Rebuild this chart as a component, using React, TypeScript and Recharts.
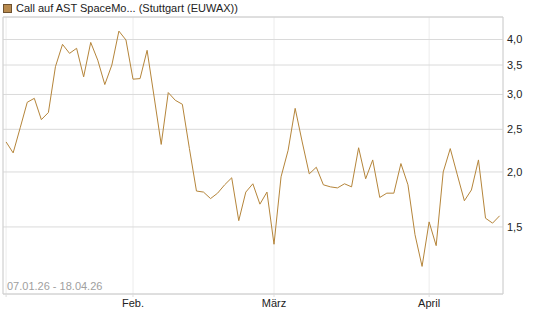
import React from "react";
import { LineChart, Line, XAxis, YAxis, CartesianGrid, ReferenceArea } from "recharts";

const values: number[] = [
  2.34, 2.21, 2.52, 2.88, 2.94, 2.63, 2.73, 3.47, 3.90, 3.72,
  3.82, 3.29, 3.94, 3.59, 3.16, 3.50, 4.18, 3.99, 3.25, 3.26,
  3.78, 2.96, 2.31, 3.03, 2.91, 2.85, 2.26, 1.81, 1.80, 1.74,
  1.79, 1.87, 1.94, 1.55, 1.80, 1.88, 1.69, 1.80, 1.37, 1.95,
  2.24, 2.79, 2.34, 1.98, 2.05, 1.87, 1.85, 1.84, 1.88, 1.85,
  2.27, 1.93, 2.13, 1.75, 1.79, 1.79, 2.09, 1.87, 1.44, 1.22,
  1.54, 1.36, 2.00, 2.26, 1.97, 1.72, 1.82, 2.13, 1.57, 1.53,
  1.59,
];

const monthTickIndex: number[] = [0, 18, 38, 60];
const monthTickLabels: string[] = ["", "Feb.", "März", "April"];
const yTicks: number[] = [1.5, 2.0, 2.5, 3.0, 3.5, 4.0];
const seriesName = "Call auf AST SpaceMo... (Stuttgart (EUWAX))";
const rangeLabel = "07.01.26 - 18.04.26";

const data = values.map((v, i) => ({ i, v }));

const X_DOMAIN: [number, number] = [-0.44, 70.48];
const Y_DOMAIN: [number, number] = [1.056, 4.5];
const FONT = "'Liberation Sans', Arial, Helvetica, sans-serif";
const LINE_COLOR = "#b5853a";

export default function App() {
  return (
    <div style={{ position: "absolute", left: 0, top: 0, width: 545, height: 327, background: "#fff", fontFamily: FONT }}>
      <LineChart width={545} height={327} data={data} margin={{ top: 17, left: 3, right: 0, bottom: 0 }}>
        <CartesianGrid horizontal={false} vertical={true} stroke="#ececec" strokeWidth={1} />
        <CartesianGrid horizontal={true} vertical={false} stroke="#dadada" strokeWidth={1} />
        <XAxis
          dataKey="i"
          type="number"
          domain={X_DOMAIN}
          allowDataOverflow
          ticks={monthTickIndex}
          tickFormatter={(v: number) => monthTickLabels[monthTickIndex.indexOf(v)] ?? ""}
          height={33}
          axisLine={false}
          tickLine={{ stroke: "#dddddd" }}
          tickSize={3}
          tickMargin={2}
          tick={{ fill: "#222", fontSize: 11, fontFamily: FONT }}
          interval={0}
        />
        <YAxis
          orientation="right"
          type="number"
          scale="log"
          domain={Y_DOMAIN}
          allowDataOverflow
          ticks={yTicks}
          tickFormatter={(v: number) => v.toFixed(1).replace(".", ",")}
          width={42}
          axisLine={false}
          tickLine={false}
          tickSize={4}
          tickMargin={0}
          tick={{ fill: "#222", fontSize: 11, fontFamily: FONT, textAnchor: "start" }}
          interval={0}
        />
        <ReferenceArea
          x1={X_DOMAIN[0]}
          x2={X_DOMAIN[1]}
          y1={Y_DOMAIN[0]}
          y2={Y_DOMAIN[1]}
          fill="none"
          fillOpacity={0}
          stroke="#d0d0d0"
          strokeWidth={1}
          ifOverflow="visible"
        />
        <Line
          type="linear"
          dataKey="v"
          stroke={LINE_COLOR}
          strokeWidth={1}
          dot={false}
          activeDot={false}
          isAnimationActive={false}
        />
      </LineChart>
      <div style={{ position: "absolute", left: 3, top: 1, height: 14, display: "flex", alignItems: "center", fontSize: 11, color: "#222", whiteSpace: "nowrap" }}>
        <span style={{ display: "inline-block", width: 7, height: 7, background: "#b88a4e", border: "1px solid #6e5230", marginRight: 4 }} />
        <span>{seriesName}</span>
      </div>
      <div style={{ position: "absolute", left: 7, top: 280, fontSize: 11, color: "#a0a0a0", whiteSpace: "nowrap" }}>
        {rangeLabel}
      </div>
    </div>
  );
}
